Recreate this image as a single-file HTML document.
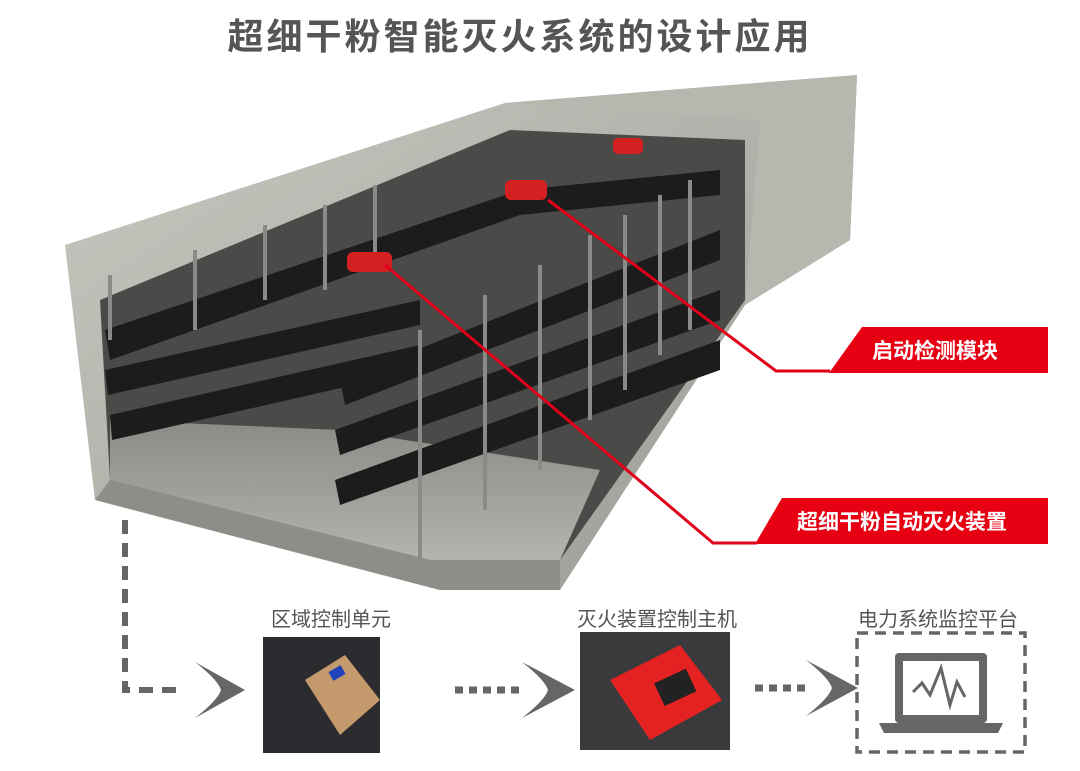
<!DOCTYPE html><html><head><meta charset="utf-8"><style>
body{margin:0;width:1080px;height:771px;background:#fff;overflow:hidden;position:relative;font-family:"Liberation Sans","Noto Sans CJK SC",sans-serif}
.t{position:absolute;white-space:nowrap}
</style></head><body>
<svg width="1080" height="771" style="position:absolute;left:0;top:0">
<defs>
<linearGradient id="c" x1="0" y1="0" x2="1" y2="1"><stop offset="0" stop-color="#c9c9c2"/><stop offset="1" stop-color="#9a9a94"/></linearGradient>
<linearGradient id="f" x1="0" y1="0" x2="0" y2="1"><stop offset="0" stop-color="#8a8a86"/><stop offset="1" stop-color="#b5b5ae"/></linearGradient>
</defs>
<polygon points="65,245 505,103 857,75 850,240 745,305 560,590 440,590 95,500" fill="url(#c)"/>
<polygon points="505,103 857,75 850,240 745,305 760,120" fill="#b7b7b0"/>
<polygon points="100,300 510,130 745,140 745,300 560,560 430,560 110,480" fill="#4a4a48"/>
<polygon points="110,480 430,560 560,560 600,470 340,430 110,420" fill="url(#f)"/>
<polygon points="95,500 440,590 560,590 560,560 430,560 110,480" fill="#8e8e88"/>
<g fill="#1c1c1c">
<polygon points="105,330 520,190 720,170 720,195 520,215 110,360"/>
<polygon points="105,370 420,300 420,325 108,395"/>
<polygon points="110,415 420,345 420,370 112,440"/>
<polygon points="340,380 720,230 720,260 345,405"/>
<polygon points="335,430 720,290 720,320 340,455"/>
<polygon points="335,480 720,340 720,370 340,505"/>
</g>
<g stroke="#8a8a88" stroke-width="4">
<line x1="110" y1="275" x2="110" y2="340"/><line x1="195" y1="250" x2="195" y2="330"/><line x1="265" y1="225" x2="265" y2="300"/>
<line x1="325" y1="205" x2="325" y2="290"/><line x1="375" y1="185" x2="375" y2="270"/><line x1="420" y1="330" x2="420" y2="560"/>
<line x1="485" y1="295" x2="485" y2="510"/><line x1="540" y1="265" x2="540" y2="470"/><line x1="590" y1="235" x2="590" y2="420"/>
<line x1="625" y1="215" x2="625" y2="390"/><line x1="660" y1="195" x2="660" y2="355"/><line x1="690" y1="180" x2="690" y2="330"/>
</g>
<g fill="#d42020"><rect x="347" y="252" width="45" height="20" rx="6"/><rect x="505" y="180" width="42" height="20" rx="6"/><rect x="613" y="138" width="30" height="16" rx="5"/></g>
<polyline points="548,200 776,371 830,371" fill="none" stroke="#e0001a" stroke-width="3"/>
<polyline points="385,265 713,543 757,543" fill="none" stroke="#e0001a" stroke-width="3"/>
<polygon points="862,327 1048,327 1048,373 829,373" fill="#e60012"/>
<polygon points="782,498 1048,498 1048,544 755,544" fill="#e60012"/>
<polyline points="125,520 125,690 185,690" fill="none" stroke="#666" stroke-width="6" stroke-dasharray="14,9"/>
<line x1="455" y1="690" x2="520" y2="690" stroke="#666" stroke-width="7" stroke-dasharray="8,6"/>
<line x1="755" y1="688" x2="805" y2="688" stroke="#666" stroke-width="7" stroke-dasharray="8,6"/>
<g fill="#666">
<path d="M195,662 Q218,680 221,690 Q218,700 195,718 L245,690 Z"/>
<path d="M522,662 Q545,680 548,690 Q545,700 522,718 L575,690 Z"/>
<path d="M806,660 Q829,678 832,688 Q829,698 806,716 L858,688 Z"/>
</g>
<rect x="263" y="637" width="117" height="116" fill="#2c2b30"/>
<polygon points="305,680 345,655 380,700 340,735" fill="#c49a6c"/>
<rect x="330" y="668" width="14" height="10" fill="#2244bb" transform="rotate(-30 337 673)"/>
<rect x="580" y="632" width="150" height="118" fill="#3a393c"/>
<polygon points="610,680 680,645 722,700 650,740" fill="#e52222"/>
<rect x="658" y="675" width="35" height="25" fill="#222" transform="rotate(-25 675 688)"/>
<rect x="857" y="633" width="168" height="119" fill="none" stroke="#666" stroke-width="3.5" stroke-dasharray="11,7"/>
<rect x="895" y="653" width="92" height="70" rx="4" fill="#666"/>
<rect x="903" y="661" width="76" height="54" fill="#fff"/>
<polygon points="879,723 1003,723 998,733 884,733" fill="#666"/>
<polyline points="913,692 922,683 930,695 941,668 950,705 957,682 965,697" fill="none" stroke="#666" stroke-width="3"/>
</svg>
<div class="t" style="left:0;width:1040px;text-align:center;top:8px;font-size:36px;letter-spacing:3px;font-weight:bold;color:#555">超细干粉智能灭火系统的设计应用</div>
<div class="t" style="left:872px;top:335px;font-size:21px;font-weight:bold;color:#fff">启动检测模块</div>
<div class="t" style="left:797px;top:506px;font-size:21px;font-weight:bold;color:#fff">超细干粉自动灭火装置</div>
<div class="t" style="left:271px;top:603px;font-size:20px;color:#555">区域控制单元</div>
<div class="t" style="left:577px;top:603px;font-size:20px;color:#555">灭火装置控制主机</div>
<div class="t" style="left:858px;top:603px;font-size:20px;color:#555">电力系统监控平台</div>
</body></html>
